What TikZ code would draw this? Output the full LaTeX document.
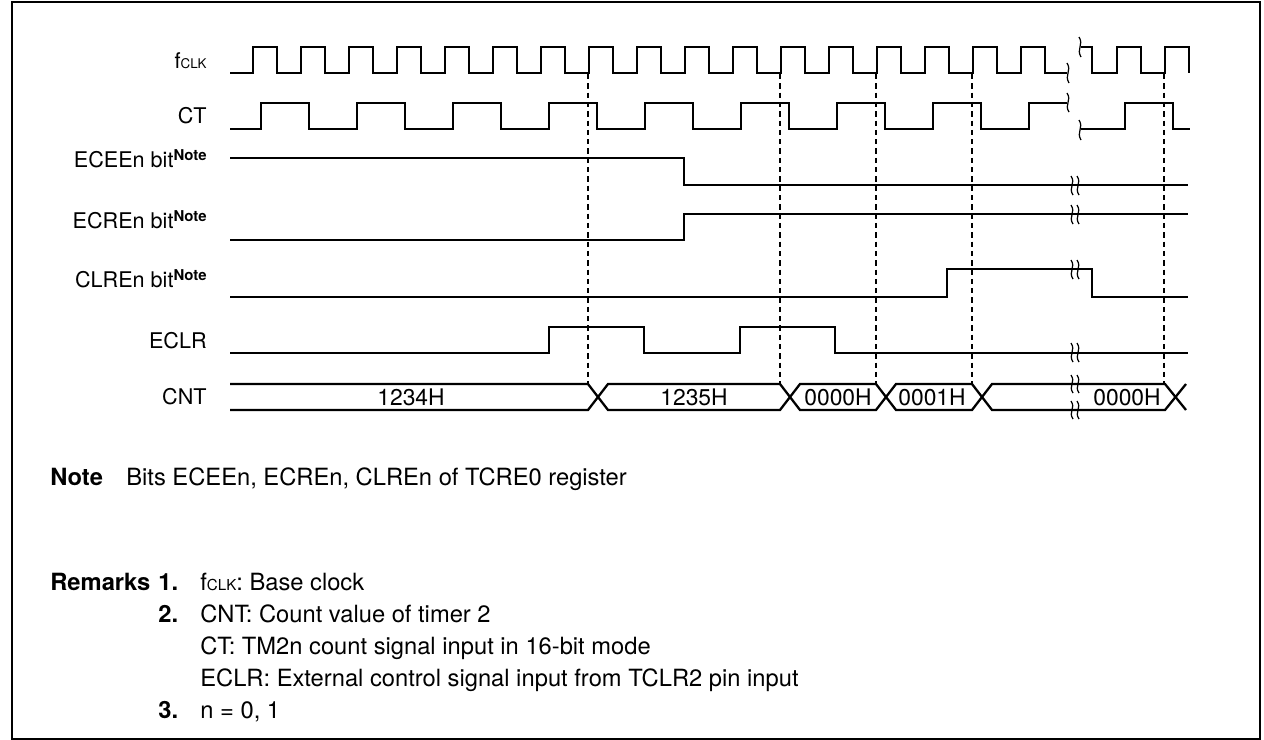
\documentclass[tikz,border=0pt]{standalone}
\usepackage{fontspec}
\setmainfont{TeX Gyre Heros}
\newcommand{\fclk}[1][7.6]{f{\fontsize{#1}{#1}\selectfont CLK}}
\newcommand{\notemark}{\raisebox{3.6pt}{\fontsize{8.5}{9}\selectfont\bfseries Note}}
\newcommand{\brkmark}[3]{\draw[brk] (#1-1,#2) .. controls (#1+4,{#2+0.4*(#3-#2)}) and (#1-4,{#2+0.6*(#3-#2)}) .. (#1+1,#3);}
\tikzset{
	sig/.style={line width=1.3pt},
	guide/.style={line width=0.6pt, dash pattern=on 3pt off 2.3pt},
	brk/.style={line width=0.7pt},
	lbl/.style={anchor=base east, inner sep=0pt, font=\fontsize{12.3}{14}\selectfont},
	val/.style={inner sep=0pt, font=\fontsize{13}{15}\selectfont},
	txt/.style={anchor=base west, inner sep=0pt},
}

\begin{document}
\begin{tikzpicture}[x=0.02cm, y=-0.02cm, every node/.style={font=\fontsize{13.5}{16}\selectfont}]
	\useasboundingbox (0,0) rectangle (1264,740);
	\draw[line width=1.4pt] (12,2) rectangle (1260,739);
	
	% signal names
	\node[lbl] (lblfclk) at (207,69) {\fclk};
	\node[lbl] (lblct) at (207,124) {CT};
	\node[lbl] (lblecee) at (207,167) {ECEEn bit\notemark};
	\node[lbl] (lblecre) at (207,228) {ECREn bit\notemark};
	\node[lbl] (lblclre) at (207,287) {CLREn bit\notemark};
	\node[lbl] (lbleclr) at (207,348) {ECLR};
	\node[lbl] (lblcnt) at (207,404) {CNT};
	
	% timing references
	\foreach \x in {588,780,876,972,1164}
		\draw[guide] (\x,74) -- (\x,384);
	
	% fCLK
	\draw[sig] (230,73) \foreach \k in {0,...,16} { -- ({253+48*\k},73) -- ++(0,-26) -- ++(24,0) -- ++(0,26) } -- (1067,73);
	\draw[sig] (1081,47) -- (1092,47) -- (1092,73) -- (1117,73) -- (1117,47) -- (1141,47) -- (1141,73) -- (1165,73) -- (1165,47) -- (1189,47) -- (1189,73);
	\brkmark{1068}{63}{83}
	\brkmark{1080}{37}{57}
	
	% CT
	\draw[sig] (230,129) \foreach \k in {0,...,7} { -- ({261+96*\k},129) -- ++(0,-26) -- ++(48,0) -- ++(0,26) } -- (1029,129) -- (1029,103) -- (1067,103);
	\draw[sig] (1081,129) -- (1125,129) -- (1125,103) -- (1173,103) -- (1173,129) -- (1190,129);
	\brkmark{1068}{93}{112}
	\brkmark{1080}{120}{140}
	
	% register bits and ECLR
	\draw[sig] (230,158) -- (684,158) -- (684,185) -- (1188,185);
	\draw[sig] (230,240) -- (684,240) -- (684,214) -- (1188,214);
	\draw[sig] (230,297) -- (947,297) -- (947,269) -- (1092,269) -- (1092,297) -- (1188,297);
	\draw[sig] (230,353) -- (549,353) -- (549,327) -- (644,327) -- (644,353) -- (740,353) -- (740,327) -- (835,327) -- (835,353) -- (1188,353);
	\foreach \x in {1072,1078} {
		\brkmark{\x}{176}{195}
		\brkmark{\x}{205}{224}
		\brkmark{\x}{260}{279}
		\brkmark{\x}{343}{362}
		\brkmark{\x}{375}{393}
		\brkmark{\x}{401}{419}
	}
	
	% CNT
	\draw[sig] (230,384) -- (588,384) -- (608,410) -- (780,410) -- (800,384) -- (876,384) -- (896,410) -- (972,410) -- (992,384) -- (1165,384) -- (1186,410);
	\draw[sig] (230,410) -- (588,410) -- (608,384) -- (780,384) -- (800,410) -- (876,410) -- (896,384) -- (972,384) -- (992,410) -- (1165,410) -- (1186,384);
	\node[val] (val1234) at (411,397) {1234H};
	\node[val] (val1235) at (694,397) {1235H};
	\node[val] (val0000a) at (838,397) {0000H};
	\node[val] (val0001) at (932,397) {0001H};
	\node[val] (val0000b) at (1127,397) {0000H};
	
	% note and remarks
	\node[txt] (notehead) at (50,485) {\bfseries Note};
	\node[txt] (notetext) at (126,485) {Bits ECEEn, ECREn, CLREn of TCRE0 register};
	\node[txt] (remhead) at (50,590) {\bfseries Remarks};
	\node[txt] (remnuma) at (158,590) {\bfseries 1.};
	\node[txt] (remtxta) at (200,590) {\fclk[8.6]: Base clock};
	\node[txt] (remnumb) at (158,622) {\bfseries 2.};
	\node[txt] (remtxtb) at (200,622) {CNT: Count value of timer 2};
	\node[txt] (remtxtc) at (200,654) {CT: TM2n count signal input in 16-bit mode};
	\node[txt] (remtxtd) at (200,686) {ECLR: External control signal input from TCLR2 pin input};
	\node[txt] (remnumc) at (158,718) {\bfseries 3.};
	\node[txt] (remtxte) at (200,718) {n = 0, 1};
\end{tikzpicture}
\end{document}
